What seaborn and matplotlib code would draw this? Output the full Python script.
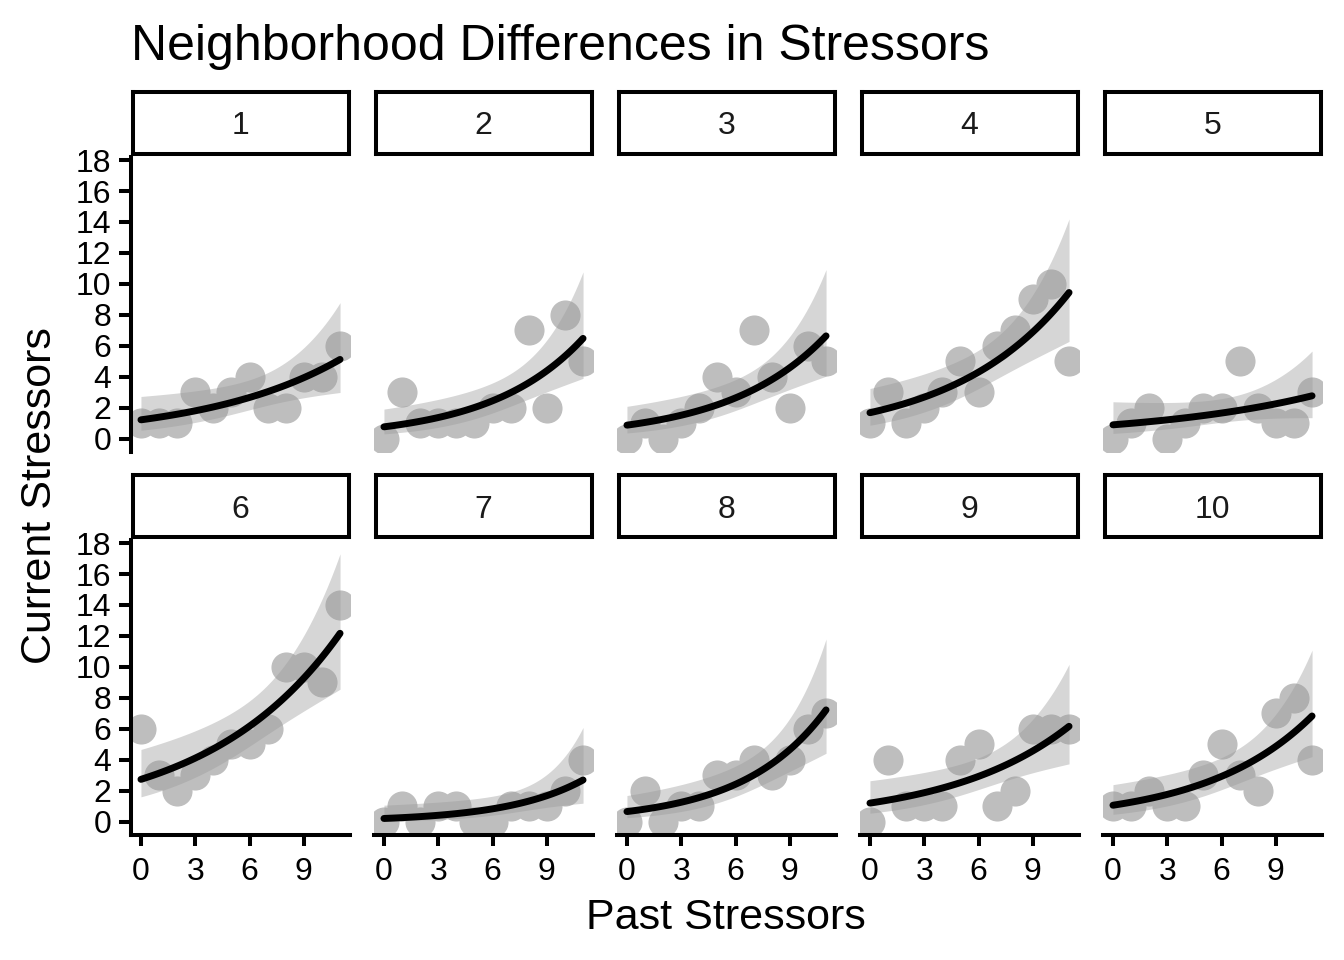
import numpy as np
import pandas as pd
import seaborn as sns
import matplotlib.pyplot as plt

sns.set_style('white')
plt.rcParams['font.family'] = ['Liberation Sans', 'DejaVu Sans']
plt.rcParams['text.color'] = 'black'

past = [0, 1, 2, 3, 4, 5, 6, 7, 8, 9, 10, 11]
hood_1 = [1, 1, 1, 3, 2, 3, 4, 2, 2, 4, 4, 6]
hood_2 = [0, 3, 1, 1, 1, 1, 2, 2, 7, 2, 8, 5]
hood_3 = [0, 1, 0, 1, 2, 4, 3, 7, 4, 2, 6, 5]
hood_4 = [1, 3, 1, 2, 3, 5, 3, 6, 7, 9, 10, 5]
hood_5 = [0, 1, 2, 0, 1, 2, 2, 5, 2, 1, 1, 3]
hood_6 = [6, 3, 2, 3, 4, 5, 5, 6, 10, 10, 9, 14]
hood_7 = [0, 1, 0, 1, 1, 0, 0, 1, 1, 1, 2, 4]
hood_8 = [0, 2, 0, 1, 1, 3, 3, 4, 3, 4, 6, 7]
hood_9 = [0, 4, 1, 1, 1, 4, 5, 1, 2, 6, 6, 6]
hood_10 = [1, 1, 2, 1, 1, 3, 5, 3, 2, 7, 8, 4]
hoods = [hood_1, hood_2, hood_3, hood_4, hood_5,
         hood_6, hood_7, hood_8, hood_9, hood_10]
hood_names = ['1', '2', '3', '4', '5', '6', '7', '8', '9', '10']


def poisson_fit(x, y, grid):
    # plain IRLS for log-link poisson glm, 95% band on the link scale
    X = np.column_stack([np.ones(len(x)), x])
    beta = np.array([np.log(np.mean(y)), 0.0])
    for _ in range(50):
        mu = np.exp(X @ beta)
        z = X @ beta + (y - mu) / mu
        XtW = X.T * mu
        beta = np.linalg.solve(XtW @ X, XtW @ z)
    cov = np.linalg.inv((X.T * np.exp(X @ beta)) @ X)
    G = np.column_stack([np.ones(len(grid)), grid])
    eta = G @ beta
    se = np.sqrt(np.einsum('ij,jk,ik->i', G, cov, G))
    return np.exp(eta), np.exp(eta - 1.96 * se), np.exp(eta + 1.96 * se)


W, H = 1344, 960
fig = plt.figure(figsize=(W / 100, H / 100), dpi=100)

grid = np.linspace(0, 11, 80)
for i, (name, vals) in enumerate(zip(hood_names, hoods)):
    row, col = divmod(i, 5)
    left = 131 + 243 * col
    top = 157 + 383 * row
    ax = fig.add_axes([left / W, 1 - (top + 295) / H, 219 / W, 295 / H])
    df = pd.DataFrame({'past': past, 'current': vals})
    fit, lo, hi = poisson_fit(np.array(past, float), np.array(vals, float), grid)

    sns.scatterplot(data=df, x='past', y='current', ax=ax, color='#bebebe',
                    s=470, linewidth=0, alpha=1, zorder=1)
    ax.fill_between(grid, lo, hi, color='#999999', alpha=0.4, linewidth=0, zorder=2)
    sns.lineplot(x=grid, y=fit, ax=ax, color='black', linewidth=5, zorder=3)

    ax.set_xlim(-0.55, 11.55)
    ax.set_ylim(-0.87, 18.2)
    ax.set_xticks([0, 3, 6, 9])
    ax.set_yticks(range(0, 19, 2))
    ax.set_xlabel('')
    ax.set_ylabel('')
    for s in ax.spines.values():
        s.set_visible(False)
    ax.tick_params(length=0, labelsize=23, colors='black')
    if col == 0:
        ax.spines['left'].set_visible(True)
        ax.spines['left'].set_linewidth(2.9)
        ax.spines['left'].set_color('black')
        ax.tick_params(axis='y', length=9, width=2.9, pad=5, left=True)
    else:
        ax.set_yticklabels([])
    if row == 1:
        ax.spines['bottom'].set_visible(True)
        ax.spines['bottom'].set_linewidth(2.9)
        ax.spines['bottom'].set_color('black')
        ax.tick_params(axis='x', length=8, width=2.9, pad=8, bottom=True)
    else:
        ax.set_xticklabels([])

    # strip box above each panel
    sax = fig.add_axes([(left + 1.5) / W, 1 - (top - 3) / H, 216 / W, 62 / H])
    sax.set_xticks([])
    sax.set_yticks([])
    sax.set_facecolor('white')
    for s in sax.spines.values():
        s.set_linewidth(2.9)
        s.set_color('black')
    sax.text(0.5, 0.5, name, ha='center', va='center_baseline', fontsize=23,
             transform=sax.transAxes, color='#1a1a1a')

fig.text(131 / W, 1 - 60 / H, 'Neighborhood Differences in Stressors',
         fontsize=36, ha='left', va='baseline', color='black')
fig.text(726 / W, 1 - 929 / H, 'Past Stressors', fontsize=31,
         ha='center', va='baseline', color='black')
fig.text(40 / W, 1 - 496 / H, 'Current Stressors', fontsize=31,
         ha='center', va='center', rotation=90, color='black')

fig.savefig('out.png', dpi=100)
